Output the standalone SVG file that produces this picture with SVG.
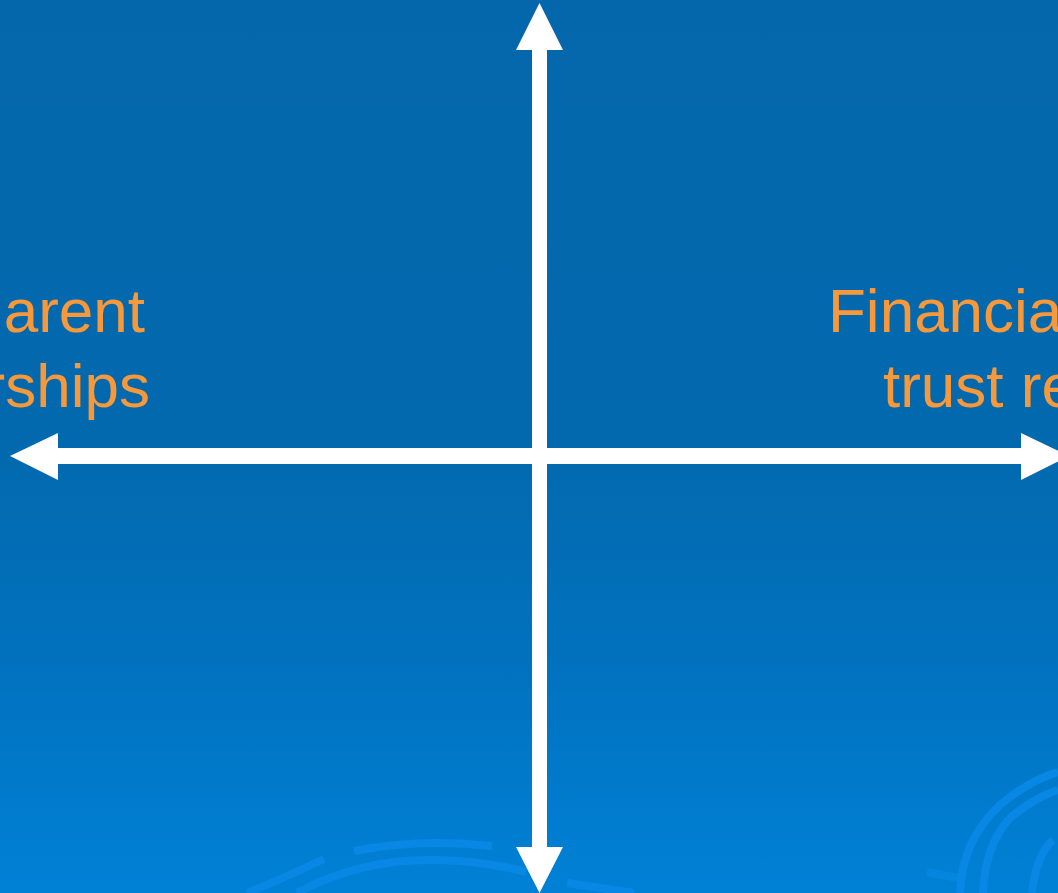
<svg xmlns="http://www.w3.org/2000/svg" width="1058" height="893" viewBox="0 0 1058 893">
<defs>
<linearGradient id="bg" x1="0" y1="0" x2="0" y2="1">
<stop offset="0" stop-color="#0467AB"/>
<stop offset="0.5" stop-color="#0369AE"/>
<stop offset="0.75" stop-color="#0172BF"/>
<stop offset="1" stop-color="#0081D6"/>
</linearGradient>
<style>
.lbl{font-family:"Liberation Sans",Arial,sans-serif;font-size:62px;fill:#F7993A}
.swirl{fill:none;stroke:#0888E4;stroke-width:8;stroke-linecap:butt}
.ax{fill:#FFFFFF}
</style>
</defs>
<rect width="1058" height="893" fill="url(#bg)"/>
<g id="decor">
<path class="swirl" d="M354 851 Q420 838 492 846" stroke-width="6"/>
<path class="swirl" d="M324 859 Q280 880 247 893" stroke-width="6"/>
<path class="swirl" d="M297 893 Q360 858 439 860 Q490 862 526 872"/>
<path class="swirl" d="M567 883 Q600 888 634 893"/>
<path class="swirl" d="M960 893 Q962 840 1000 805 Q1030 780 1058 772"/>
<path class="swirl" d="M983 893 Q985 845 1010 818 Q1035 797 1058 790"/>
<path class="swirl" d="M1032 893 Q1036 855 1053 840"/>
<path class="swirl" d="M927 872 Q945 876 960 878" stroke-opacity="0.6" stroke-width="5"/>
</g>
<g id="labels">
<g id="left-label">
<text class="lbl" x="145" y="332" text-anchor="end">arent</text>
<text class="lbl" x="150" y="407" text-anchor="end">rships</text>
</g>
<g id="right-label">
<text class="lbl" x="828" y="332">Financia</text>
<text class="lbl" x="883" y="407">trust re</text>
</g>
</g>
<g id="connectors">
<rect class="ax" x="532" y="49" width="15" height="800"/>
<polygon class="ax" points="539.5,3 516,50 563,50"/>
<polygon class="ax" points="539.5,893 516,847 563,847"/>
<rect class="ax" x="57" y="448" width="965" height="16"/>
<polygon class="ax" points="10,456 58,433 58,480"/>
<polygon class="ax" points="1069,456 1021,433 1021,480"/>
</g>
</svg>
